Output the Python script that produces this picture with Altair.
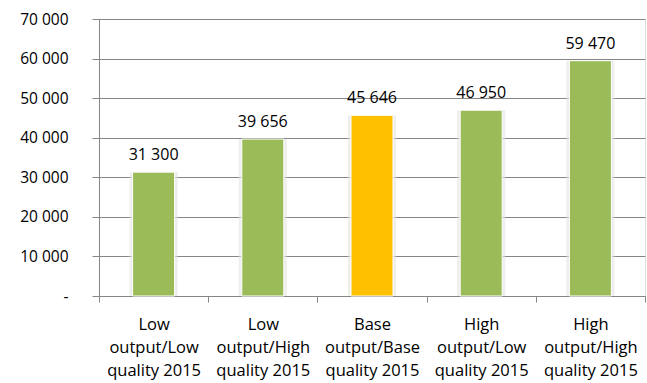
import altair as alt
import pandas as pd

categories = [
    "Low|output/Low|quality 2015",
    "Low|output/High|quality 2015",
    "Base|output/Base|quality 2015",
    "High|output/Low|quality 2015",
    "High|output/High|quality 2015",
]
values = [31300, 39656, 45646, 46950, 59470]
value_labels = ["31 300", "39 656", "45 646", "46 950", "59 470"]
colors = ["#9BBB59", "#9BBB59", "#FFC000", "#9BBB59", "#9BBB59"]
y_ticks = [0, 10000, 20000, 30000, 40000, 50000, 60000, 70000]

df = pd.DataFrame({"cat": categories, "value": values, "label": value_labels, "color": colors})

FONT = "Open Sans"

x = alt.X(
    "cat:N",
    sort=categories,
    title=None,
    scale=alt.Scale(paddingInner=0, paddingOuter=0),
    axis=alt.Axis(
        labelExpr="datum.value ? split(datum.value, '|') : ''",
        labelAngle=0,
        labelFont=FONT,
        labelFontSize=16.5,
        labelColor="#000000",
        labelLineHeight=23,
        labelPadding=14,
        labelBaseline="top",
        tickBand="extent",
        tickSize=6,
        tickColor="#868686",
        domainColor="#868686",
        grid=False,
    ),
)
y = alt.Y(
    "value:Q",
    title=None,
    scale=alt.Scale(domain=[0, 70000], nice=False),
    axis=alt.Axis(
        values=y_ticks,
        labelExpr="datum.value == 0 ? '-' : replace(format(datum.value, ',d'), ',', ' ')",
        labelFont=FONT,
        labelFontSize=15.5,
        labelColor="#000000",
        labelPadding=24,
        tickSize=7,
        tickColor="#868686",
        domainColor="#868686",
        gridColor="#868686",
        gridWidth=1,
    ),
)

base = alt.Chart(df)

shadow = base.mark_bar(size=48, color="#e3e3e3", opacity=0.6).encode(x=x, y=y)
bars = base.mark_bar(size=42, stroke="#ffffff", strokeWidth=1).encode(
    x=x, y=y, color=alt.Color("color:N", scale=None)
)
text = base.mark_text(dy=-17, font=FONT, fontSize=16, color="#000000").encode(
    x=x, y=y, text="label:N"
)

chart = (
    alt.layer(shadow, bars, text)
    .properties(
        width=546,
        height=277,
        autosize=alt.AutoSizeParams(type="none"),
        padding={"left": 99, "top": 19, "right": 2, "bottom": 87},
    )
    .configure_view(stroke=None)
    .configure(background="#ffffff")
)

chart.save("out.html", embed_options={"renderer": "svg", "actions": False})
